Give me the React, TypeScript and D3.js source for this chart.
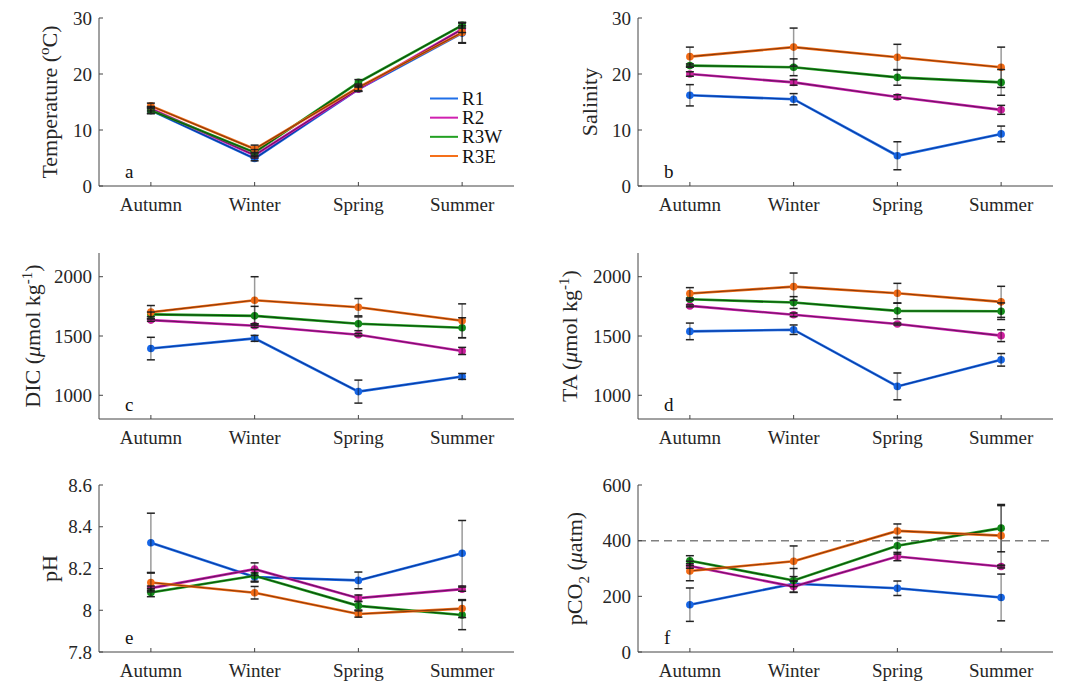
import React from 'react';
import * as d3 from 'd3';

const seasons = ['Autumn', 'Winter', 'Spring', 'Summer'];
const sites = ['R1', 'R2', 'R3W', 'R3E'];

// temperature (oC)
const tempMean = [
  [13.5, 4.9, 17.3, 27.3],
  [13.8, 5.5, 17.3, 28.0],
  [13.5, 6.0, 18.5, 28.7],
  [14.3, 6.6, 17.6, 27.4],
];
const tempErr = [
  [0.5, 0.4, 0.4, 1.8],
  [0.4, 0.5, 0.4, 0.6],
  [0.6, 0.5, 0.5, 0.5],
  [0.5, 0.7, 0.6, 1.8],
];

// salinity
const salMean = [
  [16.2, 15.5, 5.4, 9.3],
  [20.0, 18.5, 15.9, 13.6],
  [21.5, 21.2, 19.4, 18.5],
  [23.1, 24.8, 23.0, 21.2],
];
const salErr = [
  [1.9, 1.0, 2.5, 1.4],
  [0.4, 0.5, 0.4, 0.8],
  [0.3, 1.5, 1.4, 2.3],
  [1.7, 3.4, 2.3, 3.6],
];

// DIC
const dicMean = [
  [1394, 1480, 1031, 1159],
  [1634, 1587, 1511, 1374],
  [1682, 1670, 1603, 1570],
  [1701, 1802, 1743, 1628],
];
const dicErr = [
  [95, 25, 97, 25],
  [10, 15, 10, 30],
  [20, 80, 58, 84],
  [56, 198, 73, 143],
];

// TA
const taMean = [
  [1539, 1553, 1075, 1299],
  [1754, 1679, 1601, 1503],
  [1810, 1782, 1712, 1709],
  [1858, 1916, 1860, 1788],
];
const taErr = [
  [70, 40, 113, 53],
  [8, 15, 8, 50],
  [10, 50, 67, 70],
  [50, 115, 84, 131],
];

// pH
const phMean = [
  [8.323, 8.159, 8.143, 8.273],
  [8.106, 8.197, 8.058, 8.101],
  [8.085, 8.165, 8.021, 7.977],
  [8.133, 8.084, 7.982, 8.008],
];
const phErr = [
  [0.142, 0.02, 0.04, 0.157],
  [0.01, 0.03, 0.015, 0.01],
  [0.02, 0.03, 0.02, 0.07],
  [0.045, 0.03, 0.015, 0.043],
];

// pCO2 (uatm)
const pco2Mean = [
  [170, 245, 229, 196],
  [309, 235, 343, 307],
  [328, 257, 382, 445],
  [291, 326, 435, 418],
];
const pco2Err = [
  [60, 10, 26, 84],
  [8, 20, 15, 5],
  [18, 43, 30, 85],
  [35, 55, 25, 108],
];

const bright = ['#1f6fe8', '#d020b0', '#22a022', '#f5701a'];
const dark = ['#0b3a9e', '#6a1560', '#0c4a0c', '#8a3a0a'];
const markerFill = ['#1766e6', '#cc1f9e', '#138c1a', '#f26b16'];

const FONT = "'Liberation Serif', 'Times New Roman', serif";
const colX = [99, 638];
const axW = 415;
const rowY = [
  [18, 186],
  [253, 419],
  [485, 652],
];

const panels = [
  { mean: tempMean, err: tempErr, domain: [0, 30], ticks: [0, 10, 20, 30], letter: 'a', col: 0, row: 0, labelOff: 50, label: 'temp' },
  { mean: salMean, err: salErr, domain: [0, 30], ticks: [0, 10, 20, 30], letter: 'b', col: 1, row: 0, labelOff: 49, label: 'sal' },
  { mean: dicMean, err: dicErr, domain: [800, 2200], ticks: [1000, 1500, 2000], letter: 'c', col: 0, row: 1, labelOff: 67, label: 'dic' },
  { mean: taMean, err: taErr, domain: [800, 2200], ticks: [1000, 1500, 2000], letter: 'd', col: 1, row: 1, labelOff: 69, label: 'ta' },
  { mean: phMean, err: phErr, domain: [7.8, 8.6], ticks: [7.8, 8, 8.2, 8.4, 8.6], letter: 'e', col: 0, row: 2, labelOff: 50, label: 'ph' },
  { mean: pco2Mean, err: pco2Err, domain: [0, 600], ticks: [0, 200, 400, 600], letter: 'f', col: 1, row: 2, labelOff: 64, label: 'pco2', refLine: 400 },
];

function YLabel({ kind }: { kind: string }) {
  if (kind === 'temp')
    return (
      <>
        Temperature (<tspan dy={-8} fontSize={15}>o</tspan>
        <tspan dy={8}>C)</tspan>
      </>
    );
  if (kind === 'sal') return <>Salinity</>;
  if (kind === 'dic' || kind === 'ta')
    return (
      <>
        {kind === 'dic' ? 'DIC (' : 'TA ('}
        <tspan fontStyle="italic">μ</tspan>mol kg
        <tspan dy={-8} fontSize={15}>-1</tspan>
        <tspan dy={8}>)</tspan>
      </>
    );
  if (kind === 'ph') return <>pH</>;
  return (
    <>
      pCO<tspan dy={7} fontSize={15}>2</tspan>
      <tspan dy={-7}> (</tspan>
      <tspan fontStyle="italic">μ</tspan>atm)
    </>
  );
}

function Panel({ p }: { p: any }) {
  const x0 = colX[p.col];
  const [yTop, yBot] = rowY[p.row];
  const x = d3.scalePoint<string>().domain(seasons).range([x0, x0 + axW]).padding(0.5);
  const y = d3.scaleLinear().domain(p.domain).range([yBot, yTop]);
  const line = d3
    .line<number>()
    .x((_, i) => x(seasons[i]) as number)
    .y((d) => y(d));
  const tickFmt = (v: number) => (p.label === 'ph' ? String(+v.toFixed(1)) : String(v));

  return (
    <g>
      {p.refLine !== undefined && (
        <line x1={x0} x2={x0 + axW} y1={y(p.refLine)} y2={y(p.refLine)} stroke="#808080" strokeWidth={1.5} strokeDasharray="8,5" />
      )}
      {/* axes */}
      <line x1={x0} x2={x0 + axW} y1={yBot} y2={yBot} stroke="#444" strokeWidth={1} />
      <line x1={x0} x2={x0} y1={yTop} y2={yBot} stroke="#444" strokeWidth={1} />
      {seasons.map((s) => (
        <g key={s}>
          <line x1={x(s)} x2={x(s)} y1={yBot} y2={yBot - 4} stroke="#444" />
          <text x={x(s)} y={yBot + 25} textAnchor="middle" fontSize={19} fill="#262626" style={{ fontFamily: FONT }}>
            {s}
          </text>
        </g>
      ))}
      {p.ticks.map((t: number) => (
        <g key={t}>
          <line x1={x0} x2={x0 + 4} y1={y(t)} y2={y(t)} stroke="#444" />
          <text x={x0 - 7} y={y(t)} dy="0.35em" textAnchor="end" fontSize={19} fill="#262626" style={{ fontFamily: FONT }}>
            {tickFmt(t)}
          </text>
        </g>
      ))}
      <text
        transform={`translate(${x0 - p.labelOff},${(yTop + yBot) / 2}) rotate(-90)`}
        textAnchor="middle"
        dy="0.35em"
        fontSize={22}
        fill="#262626"
        style={{ fontFamily: FONT }}
      >
        <YLabel kind={p.label} />
      </text>
      <text x={x0 + 26} y={yBot - 8} fontSize={19} fill="#111" style={{ fontFamily: FONT }}>
        {p.letter}
      </text>
      {/* series */}
      {sites.map((s, k) => (
        <g key={s}>
          <path d={line(p.mean[k]) as string} fill="none" stroke={bright[k]} strokeWidth={2.6} />
          <path d={line(p.mean[k]) as string} fill="none" stroke={dark[k]} strokeWidth={1.1} />
          {p.mean[k].map((v: number, i: number) => (
            <circle key={i} cx={x(seasons[i])} cy={y(v)} r={3.8} fill={markerFill[k]} />
          ))}
        </g>
      ))}
      {/* error bars */}
      {sites.map((s, k) =>
        p.mean[k].map((v: number, i: number) => {
          const cx = x(seasons[i]) as number;
          const lo = y(v - p.err[k][i]);
          const hi = y(v + p.err[k][i]);
          return (
            <g key={s + i}>
              <line x1={cx} x2={cx} y1={lo} y2={hi} stroke="#000" strokeOpacity={0.4} strokeWidth={1.5} />
              <line x1={cx - 4} x2={cx + 4} y1={lo} y2={lo} stroke="#222" strokeWidth={1.5} />
              <line x1={cx - 4} x2={cx + 4} y1={hi} y2={hi} stroke="#222" strokeWidth={1.5} />
            </g>
          );
        })
      )}
    </g>
  );
}

export default function App() {
  const legendY = d3.scaleLinear().domain([0, 3]).range([98.5, 156]);
  return (
    <svg
      width={1077}
      height={683}
      style={{ position: 'absolute', left: 0, top: 0, background: '#fff', fontFamily: FONT }}
    >
      {panels.map((p) => (
        <Panel key={p.letter} p={p} />
      ))}
      {sites.map((s, k) => (
        <g key={s}>
          <line x1={430} x2={458} y1={legendY(k)} y2={legendY(k)} stroke={bright[k]} strokeWidth={2} />
          <text x={462} y={legendY(k)} dy="0.35em" fontSize={19} fill="#111" style={{ fontFamily: FONT }}>
            {s}
          </text>
        </g>
      ))}
    </svg>
  );
}
